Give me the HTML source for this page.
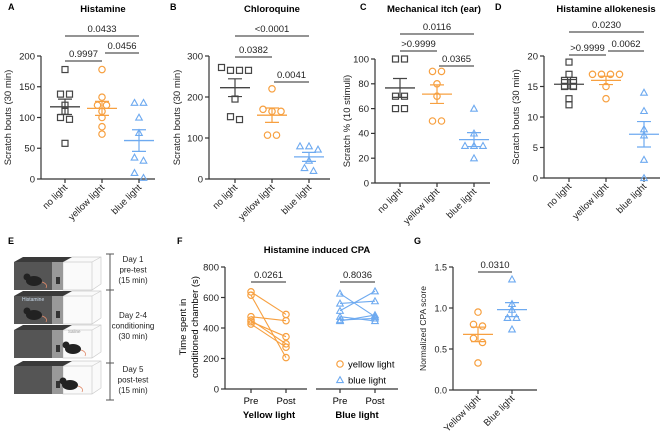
<!DOCTYPE html>
<html><head><meta charset="utf-8">
<style>
html,body{margin:0;padding:0;background:#fff;}
svg{display:block;font-family:"Liberation Sans",Arial,sans-serif;}
</style></head>
<body>
<svg id="fig" width="669" height="438" viewBox="0 0 669 438" xmlns="http://www.w3.org/2000/svg">
<g id="panelE">
  <text x="8" y="244" font-size="9" font-weight="bold">E</text>
</g>
</svg>
<script>
// ---------- data ----------
const catsScatter = ["no light","yellow light","blue light"];
const histNo = [178,138,138,120,110,100,97,58];
const histYellow = [178,133,120,120,110,100,85,73];
const histBlue = [124,124,100,75,35,30,10,2];
const chloNo = [272,265,265,265,195,152,145];
const chloYellow = [220,170,165,165,107,107];
const chloBlue = [80,72,80,20,27,45];
const mechNo = [100,100,70,70,60,60];
const mechYellow = [90,90,80,70,50,50];
const mechBlue = [60,40,30,30,30,20];
const alloNo = [19,17,16,16,15,15,13,12];
const alloYellow = [17,17,17,17,15,13];
const alloBlue = [14,11,8,7,3,0];
const histTicks = [0,50,100,150,200];
const chloTicks = [0,100,200,300];
const mechTicks = [0,20,40,60,80,100];
const alloTicks = [0,5,10,15,20];
const pHist = ["0.9997","0.0456","0.0433"];
const pChlo = ["0.0382","0.0041","<0.0001"];
const pMech = [">0.9999","0.0365","0.0116"];
const pAllo = [">0.9999","0.0062","0.0230"];
const cpaYellowPre = [637,615,474,452,441,426];
const cpaYellowPost = [489,206,448,296,343,274];
const cpaBluePre = [626,561,513,474,452,446];
const cpaBluePost = [474,576,641,446,463,485];
const cpaTicks = [0,200,400,600,800];
const pCpa = ["0.0261","0.8036"];
const catsG = ["Yellow light","Blue light"];
const normYellow = [0.95,0.80,0.78,0.63,0.58,0.33];
const normBlue = [1.35,1.05,0.98,0.88,0.88,0.74];
const normTicks = [0,0.5,1.0,1.5];
const pNorm = ["0.0310"];

// ---------- helpers ----------
const NS="http://www.w3.org/2000/svg";
const svg=document.getElementById('fig');
const AX="#333";
const COL=["#444","#f7a040","#6eaaf0"];
function mk(tag,attrs,parent,txt){const e=document.createElementNS(NS,tag);for(const k in attrs)e.setAttribute(k,attrs[k]);if(txt!==undefined)e.textContent=txt;(parent||svg).appendChild(e);return e;}
function mean(a){return a.reduce((s,v)=>s+v,0)/a.length;}
function sem(a){const m=mean(a);const v=a.reduce((s,x)=>s+(x-m)*(x-m),0)/(a.length-1);return Math.sqrt(v/a.length);}
function marker(shape,x,y,c,g){
  let e;
  if(shape===0){e=mk('rect',{x:x-3,y:y-3,width:6,height:6,fill:'none',stroke:c,'stroke-width':1.2},g);}
  else if(shape===1){e=mk('circle',{cx:x,cy:y,r:3.2,fill:'none',stroke:c,'stroke-width':1.2},g);}
  else {e=mk('path',{d:`M${x} ${y-3.3}L${x+3.3} ${y+2.6}L${x-3.3} ${y+2.6}Z`,fill:'none',stroke:c,'stroke-width':1.1},g);}
  
  
  return e;
}
function swarm(ys){
  const idx=ys.map((y,i)=>i).sort((a,b)=>ys[a]-ys[b]);
  const off=new Array(ys.length).fill(0);let cl=[];
  const flush=()=>{cl.forEach((i,k)=>off[i]=(k-(cl.length-1)/2)*9);cl=[];};
  idx.forEach(i=>{if(cl.length&&Math.abs(ys[i]-ys[cl[0]])>5)flush();cl.push(i);});flush();
  return off;
}
function yAxis(g,x,y0,y1,ticks,sc,fmt,fs){
  let e=mk('line',{x1:x,y1:y0,x2:x,y2:y1,stroke:AX,'stroke-width':1.2},g);
  
  ticks.forEach(t=>{const y=sc(t);
    mk('line',{x1:x-4,y1:y,x2:x,y2:y,stroke:AX,'stroke-width':1.2},g);
    const l=mk('text',{x:x-6,y:y+3.3,'font-size':fs||9.5,'text-anchor':'end',fill:'#222'},g,fmt?fmt(t):String(t));
    });
}
function bracket(g,x1,x2,y,label){
  const l=mk('line',{x1:x1,y1:y,x2:x2,y2:y,stroke:'#555','stroke-width':1.2},g);
  
  const t=mk('text',{x:(x1+x2)/2,y:y-4,'font-size':9.5,'text-anchor':'middle',fill:'#222'},g,label);
  
}
function scatterPanel(o){
  const g=mk('g',{});
  
  const sc=v=>o.yb-(v-o.vmin)/(o.vmax-o.vmin)*(o.yb-o.yt);
  const pl=mk('text',{x:o.lx,y:o.ly||10,'font-size':9,'font-weight':'bold'},g,o.letter);
  
  if(o.title){const t=mk('text',{x:o.tx,y:12,'font-size':9.5,'font-weight':'bold','text-anchor':'middle'},g,o.title);
    }
  yAxis(g,o.ax,o.yt,o.yb,o.ticks,sc,o.fmt,o.tfs);
  const xa=mk('line',{x1:o.ax,y1:o.yb,x2:o.axEnd,y2:o.yb,stroke:AX,'stroke-width':1.2},g);
  
  const yl=mk('text',{transform:`translate(${o.ylx},${(o.yt+o.yb)/2}) rotate(-90)`,'font-size':o.ylfs||9.5,'text-anchor':'middle',fill:'#222'},g,o.ylabel);
  
  o.series.forEach((d,i)=>{
    const cx=o.cx[i];const c=COL[o.colors?o.colors[i]:i];const shape=o.shapes?o.shapes[i]:i;
    mk('line',{x1:cx,y1:o.yb,x2:cx,y2:o.yb+4,stroke:AX,'stroke-width':1.2},g);
    const xl=mk('text',{transform:`translate(${cx+3},${o.yb+9}) rotate(-45)`,'font-size':9.5,'text-anchor':'end',fill:'#222'},g,o.cats[i]);
    
    const ys=d.map(sc);const off=swarm(ys);
    ys.forEach((y,k)=>marker(shape,cx+off[k],y,c,g));
    const m=mean(d),s=sem(d);const ym=sc(m),ya=sc(m+s),yb2=sc(m-s);
    const ml=mk('line',{x1:cx-15,y1:ym,x2:cx+15,y2:ym,stroke:c,'stroke-width':1.3},g);
    
    const eb=mk('path',{d:`M${cx} ${ya}V${yb2}M${cx-7} ${ya}H${cx+7}M${cx-7} ${yb2}H${cx+7}`,stroke:c,'stroke-width':1.2,fill:'none'},g);
    
  });
  o.brackets.forEach((b,i)=>bracket(g,b[0],b[1],b[2],o.p[i]));
}

scatterPanel({name:'panel-a-histamine',letter:'A',lx:8,title:'Histamine',tx:103,ax:41,axEnd:155,yt:56,yb:179,vmin:0,vmax:200,ticks:histTicks,
  ylx:11,ylabel:'Scratch bouts (30 min)',cats:catsScatter,cx:[65,102,139],series:[histNo,histYellow,histBlue],p:pHist,
  brackets:[[65,102,61],[105,139,53],[65,139,36]]});
scatterPanel({name:'panel-b-chloroquine',letter:'B',lx:170,title:'Chloroquine',tx:272,ax:209,axEnd:330,yt:56,yb:179,vmin:0,vmax:300,ticks:chloTicks,
  ylx:180,ylabel:'Scratch bouts (30 min)',cats:catsScatter,cx:[235,272,309],series:[chloNo,chloYellow,chloBlue],p:pChlo,
  brackets:[[235,272,57],[274,309,82],[235,309,36]]});
scatterPanel({name:'panel-c-mechanical-itch',letter:'C',lx:360,title:'Mechanical itch (ear)',tx:434,ax:375,axEnd:490,yt:59,yb:183,vmin:0,vmax:100,ticks:mechTicks,
  ylx:350,ylabel:'Scratch % (10 stimuli)',cats:catsScatter,cx:[400,437,474],series:[mechNo,mechYellow,mechBlue],p:pMech,
  brackets:[[400,437,51],[439,474,66],[400,474,34]]});
scatterPanel({name:'panel-d-allokenesis',letter:'D',lx:495,title:'Histamine allokenesis',tx:606,ax:544,axEnd:660,yt:56,yb:178,vmin:0,vmax:20,ticks:alloTicks,
  ylx:519,ylabel:'Scratch bouts (30 min)',cats:catsScatter,cx:[569,606,644],series:[alloNo,alloYellow,alloBlue],p:pAllo,
  brackets:[[569,606,55],[608,644,51],[569,644,32]]});
scatterPanel({name:'panel-g-normalized-cpa',letter:'G',lx:414,ly:244,title:null,ax:453,axEnd:537,yt:267,yb:390,vmin:0,vmax:1.5,ticks:normTicks,
  fmt:t=>t.toFixed(1),tfs:9,ylx:426,ylfs:8.5,ylabel:'Normalized CPA score',cats:catsG,cx:[478,512],colors:[1,2],shapes:[1,2],
  series:[normYellow,normBlue],p:pNorm,brackets:[[478,512,272]]});

// ---------- Panel F ----------
(function(){
  const g=mk('g',{});
  
  const yb=389,yt=267,vmax=800;const sc=v=>yb-v/vmax*(yb-yt);
  const pl=mk('text',{x:177,y:244,'font-size':9,'font-weight':'bold'},g,'F');
  
  const t=mk('text',{x:317,y:253,'font-size':9.5,'font-weight':'bold','text-anchor':'middle'},g,'Histamine induced CPA');
  
  yAxis(g,225,yt,yb,cpaTicks,sc);
  let a=mk('line',{x1:225,y1:yb,x2:307,y2:yb,stroke:AX,'stroke-width':1.2},g);
  
  a=mk('line',{x1:316,y1:yb,x2:398,y2:yb,stroke:AX,'stroke-width':1.2},g);
  
  const y1=mk('text',{transform:'translate(186,327) rotate(-90)','font-size':9.5,'text-anchor':'middle'},g,'Time spent in');
  
  const y2=mk('text',{transform:'translate(198,327) rotate(-90)','font-size':9.5,'text-anchor':'middle'},g,'conditioned chamber (s)');
  
  const groups=[[cpaYellowPre,cpaYellowPost,251,286,COL[1],1,'Yellow light',269],[cpaBluePre,cpaBluePost,340,375,COL[2],2,'Blue light',357]];
  groups.forEach((gr,gi)=>{
    const [pre,post,xa,xb,c,shape,lab,lx]=gr;
    [[xa,'Pre'],[xb,'Post']].forEach(([x,s])=>{
      mk('line',{x1:x,y1:yb,x2:x,y2:yb+4,stroke:AX,'stroke-width':1.2},g);
      const tl=mk('text',{x:x,y:404,'font-size':9.5,'text-anchor':'middle'},g,s);
      
    });
    const gl=mk('text',{x:lx,y:418,'font-size':9.5,'font-weight':'bold','text-anchor':'middle'},g,lab);
    
    pre.forEach((v,i)=>{
      const ln=mk('line',{x1:xa,y1:sc(v),x2:xb,y2:sc(post[i]),stroke:c,'stroke-width':1.1},g);
      
      marker(shape,xa,sc(v),c,g);marker(shape,xb,sc(post[i]),c,g);
    });
    bracket(g,xa,xb,282,pCpa[gi]);
  });
  const lg=mk('g',{},g);
  marker(1,340,364,COL[1],lg);
  let lt=mk('text',{x:348,y:367.5,'font-size':9.5},lg,'yellow light');
  marker(2,340,380,COL[2],lg);
  lt=mk('text',{x:348,y:383.5,'font-size':9.5},lg,'blue light');
})();

// ---------- Panel E schematic ----------
(function(){
  const g=document.getElementById('panelE');
  const rows=[262,296,330,366];
  rows.forEach((y,i)=>{
    const b=mk('g',{},g);
    mk('path',{d:`M63 ${y}L72 ${y-5}L101 ${y-5}L101 ${y+22}L92 ${y+28}L63 ${y+28}Z`,fill:'#fafafa',stroke:'#ccc','stroke-width':0.7},b);
    mk('line',{x1:63,y1:y,x2:92,y2:y,stroke:'#ccc','stroke-width':0.7},b);
    mk('line',{x1:92,y1:y,x2:101,y2:y-5,stroke:'#ccc','stroke-width':0.7},b);
    mk('line',{x1:92,y1:y,x2:92,y2:y+28,stroke:'#ccc','stroke-width':0.7},b);
    mk('path',{d:`M14 ${y}L23 ${y-5}L72 ${y-5}L63 ${y}Z`,fill:'#3a3a3a'},b);
    mk('rect',{x:14,y:y,width:49,height:28,fill:'#555'},b);
    mk('path',{d:`M52 ${y}L63 ${y}L63 ${y+28}L52 ${y+28}Z`,fill:'#999'},b);
    mk('rect',{x:56,y:y+15,width:4,height:7,fill:'#333'},b);
    const mx=[34,34,73,70][i];
    mk('ellipse',{cx:mx,cy:y+19,rx:8,ry:5,fill:'#222'},b);
    mk('circle',{cx:mx-7,cy:y+15,r:3.5,fill:'#222'},b);
    mk('path',{d:`M${mx+8} ${y+20}q6 2 4 6`,stroke:'#e08a6a',fill:'none','stroke-width':0.8},b);
  });
  let s=mk('text',{x:22,y:301,'font-size':5,fill:'#cde'},g,'Histamine');
  s=mk('text',{x:68,y:333,'font-size':4.5,fill:'#999'},g,'Saline');
  const tl=mk('path',{d:'M110 254V400M106 254H114M106 290H114M106 363H114M106 400H114',stroke:'#555','stroke-width':1,fill:'none'},g);
  
  const txt=[[262,['Day 1','pre-test','(15 min)']],[318,['Day 2-4','conditioning','(30 min)']],[372,['Day 5','post-test','(15 min)']]];
  txt.forEach(([y,ls])=>ls.forEach((l,k)=>{const e=mk('text',{x:133,y:y+k*10.5,'font-size':8,'text-anchor':'middle',fill:'#222'},g,l);
    }));
})();
</script>
</body></html>
